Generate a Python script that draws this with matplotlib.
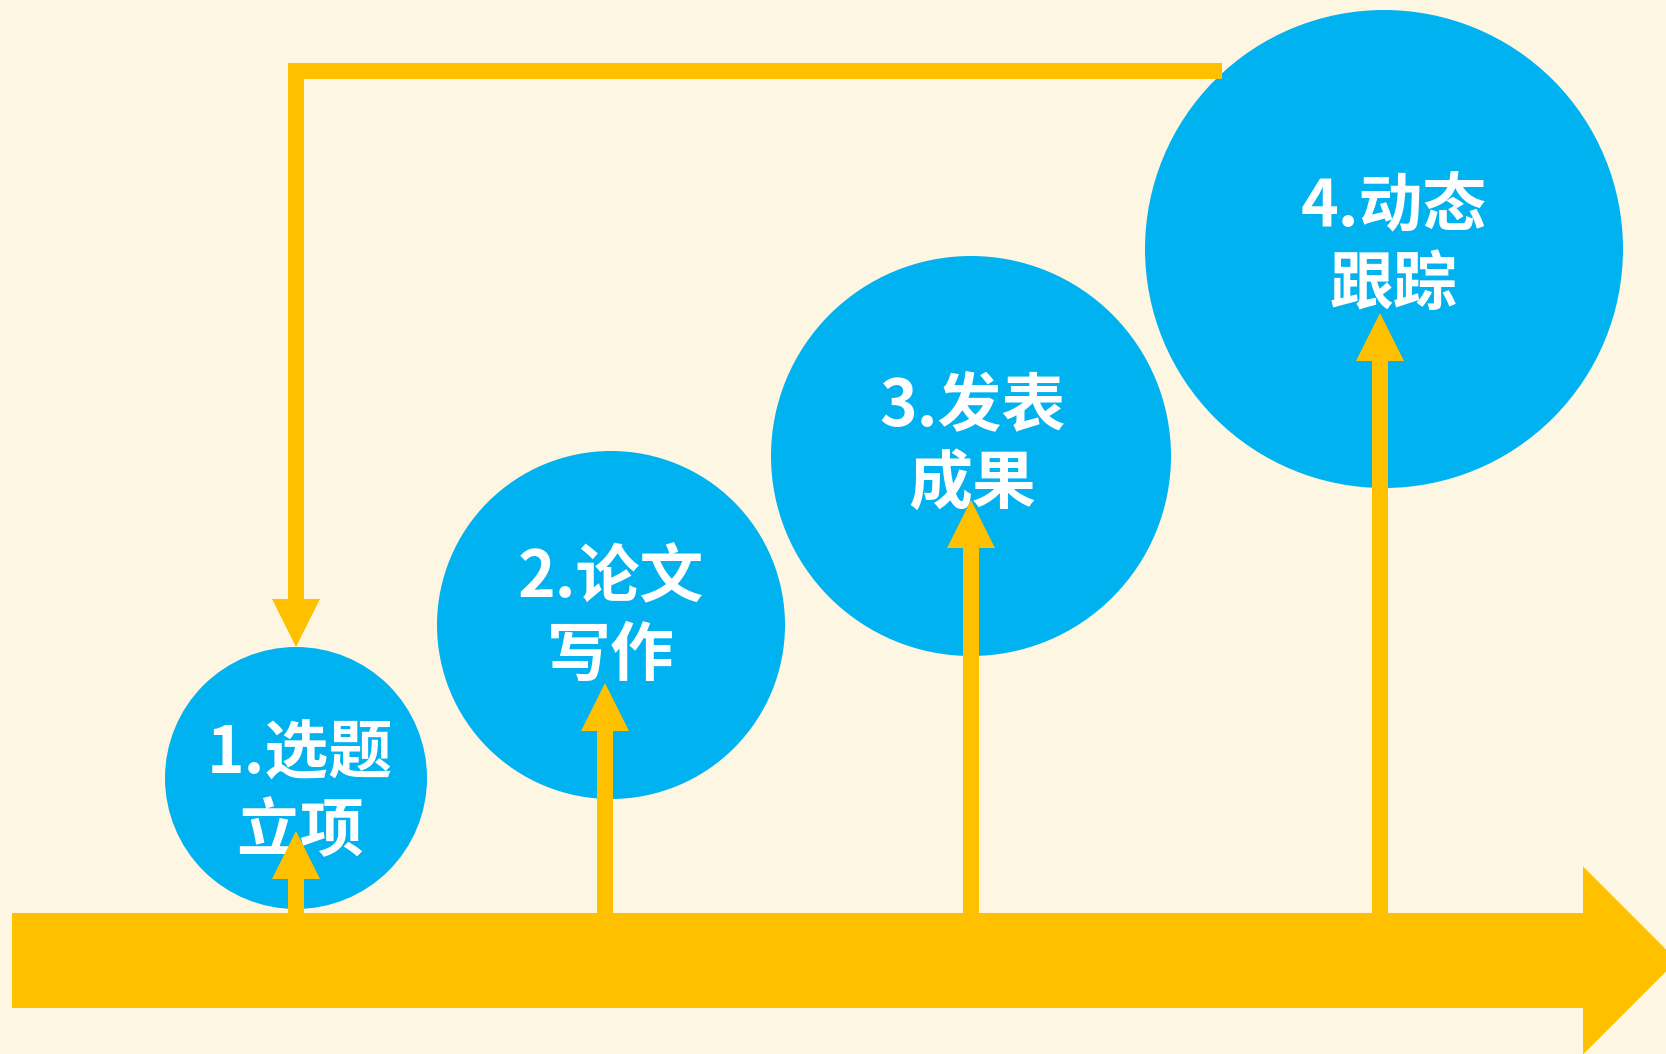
import matplotlib
matplotlib.use('Agg')
import matplotlib.pyplot as plt
from matplotlib.patches import Circle, Polygon

# ---- data ----
step_line1 = ["1.选题", "2.论文", "3.发表", "4.动态"]
step_line2 = ["立项", "写作", "成果", "跟踪"]
circle_x = [296, 611, 971, 1384]
circle_y = [778, 625, 456, 249]
circle_r = [131, 174, 200, 239]
text_x = [300, 611, 972, 1394]
text_y = [755, 579, 407, 208]
arrow_x = [296, 605, 971, 1380]
arrow_tip_y = [831, 683, 500, 313]

BG = "#FCF6E2"
YELLOW = "#FFC000"
BLUE = "#00B2EF"
W, H = 1666, 1054

fig = plt.figure(figsize=(W / 100, H / 100), dpi=100)
fig.patch.set_facecolor(BG)
ax = fig.add_axes([0, 0, 1, 1])
ax.set_xlim(0, W)
ax.set_ylim(H, 0)
ax.set_facecolor(BG)
ax.axis('off')

# timeline big arrow
bar_x0, bar_x1, bar_y0, bar_y1, head_h = 12, 1583, 913, 1008, 94
mid = (bar_y0 + bar_y1) / 2
ax.add_patch(Polygon([(bar_x0, bar_y0), (bar_x1, bar_y0), (bar_x1, mid - head_h),
                      (bar_x1 + head_h, mid), (bar_x1, mid + head_h),
                      (bar_x1, bar_y1), (bar_x0, bar_y1)],
                     closed=True, facecolor=YELLOW, edgecolor='none', zorder=3))

# circles
for cx, cy, r in zip(circle_x, circle_y, circle_r):
    ax.add_patch(Circle((cx, cy), r, facecolor=BLUE, edgecolor='none', zorder=1))

# texts
fam = ['Noto Sans CJK SC', 'DejaVu Sans']
gap = 77
for t1, t2, tx, ty in zip(step_line1, step_line2, text_x, text_y):
    ax.text(tx, ty, t1, ha='center', va='center', fontsize=46, fontweight='black',
            color='white', family=fam, zorder=2)
    ax.text(tx, ty + gap, t2, ha='center', va='center', fontsize=46, fontweight='black',
            color='white', family=fam, zorder=2)

sw, hw, hl = 8, 24, 48
# up arrows
for x, tip in zip(arrow_x, arrow_tip_y):
    ax.add_patch(Polygon([(x - sw, bar_y0), (x - sw, tip + hl), (x - hw, tip + hl),
                          (x, tip), (x + hw, tip + hl), (x + sw, tip + hl), (x + sw, bar_y0)],
                         closed=True, facecolor=YELLOW, edgecolor='none', zorder=3))

# loop back arrow
loop_y = 71
loop_end_x = 1222
lx = circle_x[0]
loop_tip = 647
ax.add_patch(Polygon([(lx - sw, loop_y - sw), (loop_end_x, loop_y - sw), (loop_end_x, loop_y + sw),
                      (lx + sw, loop_y + sw), (lx + sw, loop_tip - hl), (lx + hw, loop_tip - hl),
                      (lx, loop_tip), (lx - hw, loop_tip - hl), (lx - sw, loop_tip - hl)],
                     closed=True, facecolor=YELLOW, edgecolor='none', zorder=3))

fig.savefig('out.png', dpi=100, facecolor=BG)
